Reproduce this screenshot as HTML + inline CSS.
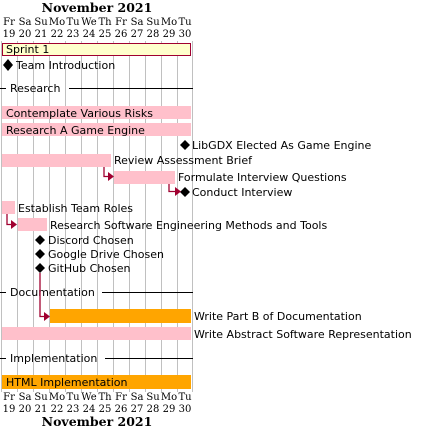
<!DOCTYPE html>
<html><head><style>
body{margin:0;background:#fff;width:421px;height:429px;overflow:hidden}
svg{display:block}
text{font-family:"DejaVu Sans","Liberation Sans",sans-serif;font-size:11px;fill:#000}
.s{font-family:"DejaVu Serif","Liberation Serif",serif;font-size:10px}
.t{font-family:"DejaVu Serif","Liberation Serif",serif;font-size:12.5px;font-weight:bold}
</style></head><body>
<svg width="421" height="429" viewBox="0 0 421 429">
<g stroke="#c0c0c0" stroke-width="1">
<line x1="1.5" y1="41" x2="1.5" y2="392"/><line x1="17.5" y1="41" x2="17.5" y2="392"/><line x1="33.5" y1="41" x2="33.5" y2="392"/><line x1="49.5" y1="41" x2="49.5" y2="392"/><line x1="65.5" y1="41" x2="65.5" y2="392"/><line x1="81.5" y1="41" x2="81.5" y2="392"/><line x1="97.5" y1="41" x2="97.5" y2="392"/><line x1="113.5" y1="41" x2="113.5" y2="392"/><line x1="129.5" y1="41" x2="129.5" y2="392"/><line x1="145.5" y1="41" x2="145.5" y2="392"/><line x1="161.5" y1="41" x2="161.5" y2="392"/><line x1="177.5" y1="41" x2="177.5" y2="392"/><line x1="192.5" y1="41" x2="192.5" y2="392"/>
</g>
<text class="t" x="97" y="12" text-anchor="middle">November 2021</text>
<g class="s" text-anchor="middle">
<text class="s" x="9" y="25">Fr</text><text class="s" x="25" y="25">Sa</text><text class="s" x="41" y="25">Su</text><text class="s" x="57" y="25">Mo</text><text class="s" x="73" y="25">Tu</text><text class="s" x="89" y="25">We</text><text class="s" x="105" y="25">Th</text><text class="s" x="121" y="25">Fr</text><text class="s" x="137" y="25">Sa</text><text class="s" x="153" y="25">Su</text><text class="s" x="169" y="25">Mo</text><text class="s" x="185" y="25">Tu</text>
<text class="s" x="9" y="37">19</text><text class="s" x="25" y="37">20</text><text class="s" x="41" y="37">21</text><text class="s" x="57" y="37">22</text><text class="s" x="73" y="37">23</text><text class="s" x="89" y="37">24</text><text class="s" x="105" y="37">25</text><text class="s" x="121" y="37">26</text><text class="s" x="137" y="37">27</text><text class="s" x="153" y="37">28</text><text class="s" x="169" y="37">29</text><text class="s" x="185" y="37">30</text>
<text class="s" x="9" y="400">Fr</text><text class="s" x="25" y="400">Sa</text><text class="s" x="41" y="400">Su</text><text class="s" x="57" y="400">Mo</text><text class="s" x="73" y="400">Tu</text><text class="s" x="89" y="400">We</text><text class="s" x="105" y="400">Th</text><text class="s" x="121" y="400">Fr</text><text class="s" x="137" y="400">Sa</text><text class="s" x="153" y="400">Su</text><text class="s" x="169" y="400">Mo</text><text class="s" x="185" y="400">Tu</text>
<text class="s" x="9" y="412">19</text><text class="s" x="25" y="412">20</text><text class="s" x="41" y="412">21</text><text class="s" x="57" y="412">22</text><text class="s" x="73" y="412">23</text><text class="s" x="89" y="412">24</text><text class="s" x="105" y="412">25</text><text class="s" x="121" y="412">26</text><text class="s" x="137" y="412">27</text><text class="s" x="153" y="412">28</text><text class="s" x="169" y="412">29</text><text class="s" x="185" y="412">30</text>
</g>
<text class="t" x="97" y="426" text-anchor="middle">November 2021</text>

<rect x="2.5" y="43.5" width="188" height="12" fill="#ffffcc" stroke="#a00030" stroke-width="1"/>
<text x="6" y="53">Sprint 1</text>
<polygon points="8,59 13,65 8,71 3,65" fill="#000"/><text x="16" y="69">Team Introduction</text>

<line x1="0" y1="88.5" x2="6" y2="88.5" stroke="#000"/><text x="10" y="92">Research</text><line x1="69" y1="88.5" x2="193" y2="88.5" stroke="#000"/>

<rect x="2" y="106" width="189" height="13" fill="#ffc0cb"/><text x="6" y="117">Contemplate Various Risks</text>
<rect x="2" y="123" width="189" height="13" fill="#ffc0cb"/><text x="6" y="134">Research A Game Engine</text>
<polygon points="185,140 190,145 185,150 180,145" fill="#000"/><text x="192" y="149">LibGDX Elected As Game Engine</text>
<rect x="2" y="154" width="109" height="13" fill="#ffc0cb"/><text x="114" y="164">Review Assessment Brief</text>
<rect x="114" y="171" width="61" height="13" fill="#ffc0cb"/><text x="178" y="181">Formulate Interview Questions</text>
<polygon points="185,187 190,192 185,197 180,192" fill="#000"/><text x="192" y="196">Conduct Interview</text>
<rect x="2" y="201" width="13" height="13" fill="#ffc0cb"/><text x="18" y="212">Establish Team Roles</text>
<rect x="18" y="218" width="29" height="13" fill="#ffc0cb"/><text x="50" y="229">Research Software Engineering Methods and Tools</text>
<polygon points="40,235 45,240 40,245 35,240" fill="#000"/><text x="48" y="244">Discord Chosen</text>
<polygon points="40,249 45,254 40,259 35,254" fill="#000"/><text x="48" y="258">Google Drive Chosen</text>
<polygon points="40,263 45,268 40,273 35,268" fill="#000"/><text x="48" y="272">GitHub Chosen</text>

<line x1="0" y1="292.5" x2="6" y2="292.5" stroke="#000"/><text x="10" y="296">Documentation</text><line x1="102" y1="292.5" x2="193" y2="292.5" stroke="#000"/>
<rect x="50" y="309" width="141" height="14" fill="#ffa500"/><text x="194" y="320">Write Part B of Documentation</text>
<rect x="2" y="327" width="189" height="13" fill="#ffc0cb"/><text x="194" y="338">Write Abstract Software Representation</text>

<line x1="0" y1="358.5" x2="6" y2="358.5" stroke="#000"/><text x="10" y="362">Implementation</text><line x1="105" y1="358.5" x2="193" y2="358.5" stroke="#000"/>
<rect x="2" y="375" width="189" height="14" fill="#ffa500"/><text x="6" y="386">HTML Implementation</text>

<g stroke="#a00030" stroke-width="1.3" fill="none">
<polyline points="104,167 104,176.5 109,176.5"/>
<polyline points="169,184 169,191.5 176,191.5"/>
<polyline points="7,214 7,224.5 12,224.5"/>
<polyline points="40,273 40,316.5 45,316.5"/>
</g>
<g fill="#a00030">
<polygon points="108,172 114,176.5 108,181"/>
<polygon points="175,187 181,191.5 175,196"/>
<polygon points="11,220 17,224.5 11,229"/>
<polygon points="44,312 50,316.5 44,321"/>
</g>
</svg>
</body></html>
